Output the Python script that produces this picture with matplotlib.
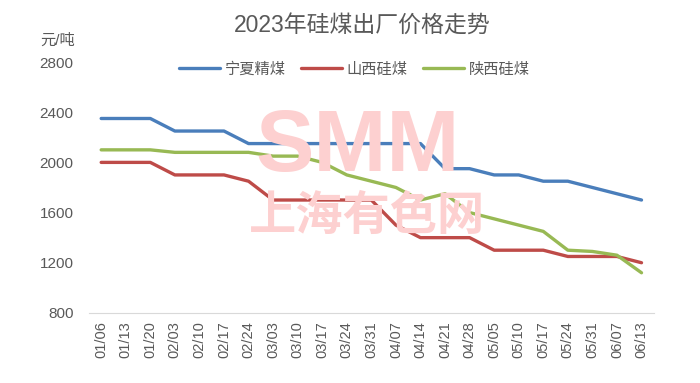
import numpy as np
import matplotlib
matplotlib.use('Agg')
import matplotlib.pyplot as plt

plt.rcParams['font.family'] = ['Liberation Sans', 'Noto Sans CJK SC', 'DejaVu Sans']

dates = ['01/06', '01/13', '01/20', '02/03', '02/10', '02/17', '02/24', '03/03',
         '03/10', '03/17', '03/24', '03/31', '04/07', '04/14', '04/21', '04/28',
         '05/05', '05/10', '05/17', '05/24', '05/31', '06/07', '06/13']
ningxia = [2350, 2350, 2350, 2250, 2250, 2250, 2150, 2150, 2150, 2150, 2150, 2150,
           2150, 2150, 1950, 1950, 1900, 1900, 1850, 1850, 1800, 1750, 1700]
shanxi = [2000, 2000, 2000, 1900, 1900, 1900, 1850, 1700, 1700, 1700, 1700, 1700,
          1500, 1400, 1400, 1400, 1300, 1300, 1300, 1250, 1250, 1250, 1200]
shaanxi = [2100, 2100, 2100, 2080, 2080, 2080, 2080, 2050, 2050, 2000, 1900, 1850,
           1800, 1700, 1750, 1600, 1550, 1500, 1450, 1300, 1290, 1260, 1120]
names = ['宁夏精煤', '山西硅煤', '陕西硅煤']
colors = ['#4a7ebb', '#be4b48', '#98b954']

fig = plt.figure(figsize=(7, 3.83), dpi=100)
ax = fig.add_axes([0.127, 0.183, 0.807, 0.655])

# watermark
fig.text(0.511, 0.612, 'SMM', fontsize=63, fontweight='bold', color='#fdd0d0',
         ha='center', va='center', zorder=0)
fig.text(0.525, 0.435, '上海有色网', fontsize=34, fontweight='bold', color='#fdd0d0',
         ha='center', va='center', family=['Noto Sans CJK SC'], zorder=0)
ax.set_facecolor('none')

x = np.arange(len(dates))
for vals, name, c in zip([ningxia, shanxi, shaanxi], names, colors):
    ax.plot(x, vals, color=c, lw=2.4, label=name, solid_capstyle='round')

ax.set_xlim(-0.5, len(dates) - 0.5)
ax.set_ylim(800, 2800)
ax.set_yticks([800, 1200, 1600, 2000, 2400, 2800])
ax.set_xticks(x)
ax.set_xticklabels(dates, rotation=90)
ax.tick_params(length=0, labelsize=10.5, colors='#595959')
ax.tick_params(axis='y', pad=11, labelsize=11)
ax.tick_params(axis='x', pad=6)
for s in ['top', 'right', 'left']:
    ax.spines[s].set_visible(False)
ax.spines['bottom'].set_color('#d9d9d9')

fig.text(0.518, 0.932, '2023年硅煤出厂价格走势', fontsize=16.5, color='#595959',
         ha='center', va='center')
fig.text(0.058, 0.895, '元/吨', fontsize=11, color='#595959', ha='left', va='center')

leg = ax.legend(loc='center', bbox_to_anchor=(0.47, 0.97), ncol=3, frameon=False,
                fontsize=11, handlelength=2.7, columnspacing=1.0, handletextpad=0.3)
for t in leg.get_texts():
    t.set_color('#595959')

plt.savefig('out.png', dpi=100)
